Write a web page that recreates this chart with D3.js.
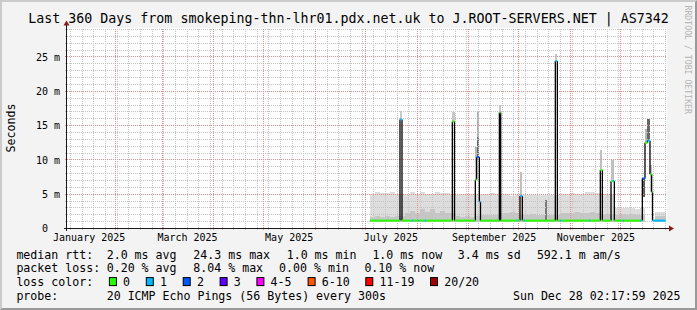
<!DOCTYPE html>
<html><head><meta charset="utf-8">
<script src="https://cdn.jsdelivr.net/npm/d3@7"></script>
<style>
html,body{margin:0;padding:0;background:#f3f3f3;}
svg{display:block;}
text{font-family:"DejaVu Sans Mono",monospace;fill:#000;}
</style></head><body>
<svg id="chart" width="697" height="310"></svg>
<script>
// ---------------- data ----------------
const title = "Last 360 Days from smokeping-thn-lhr01.pdx.net.uk to J.ROOT-SERVERS.NET | AS7342";
const timeDomain = ["2025-01-03T00:00", "2025-12-29T00:00"];
const yMax = 29.15;
const yTicks = [0, 5, 10, 15, 20, 25];
const monthLabelDates = ["2025-01-16", "2025-03-16", "2025-05-16", "2025-07-16", "2025-09-16", "2025-11-16"];

// median rtt (ms) as steps: each value holds from its time until the next one
const medTimes = ["2025-07-03T19:00","2025-07-21T19:00","2025-07-23T00:00","2025-07-28T17:00","2025-07-29T19:00",
  "2025-08-01T14:00","2025-08-02T12:00","2025-08-05T12:00","2025-08-06T10:00","2025-08-22T05:00","2025-08-23T12:00",
  "2025-09-05T00:00","2025-09-05T19:00","2025-09-07T10:00","2025-09-08T02:00","2025-09-19T10:00","2025-09-20T05:00",
  "2025-09-29T14:00","2025-09-30T10:00","2025-10-01T19:00","2025-10-03T05:00","2025-10-03T22:00","2025-10-04T19:00",
  "2025-10-23T00:00","2025-10-24T05:00","2025-10-25T19:00","2025-10-26T19:00","2025-11-12T02:00","2025-11-12T19:00",
  "2025-11-19T00:00","2025-11-20T05:00","2025-11-25T10:00","2025-11-26T14:00","2025-11-27T10:00","2025-12-02T12:00",
  "2025-12-03T05:00","2025-12-12T19:00","2025-12-13T19:00","2025-12-14T05:00","2025-12-15T19:00","2025-12-17T07:00",
  "2025-12-18T19:00","2025-12-19T19:00","2025-12-20T07:00"];
const medEnd = "2025-12-28T05:00";
const medValues = [1.15,15.9,1.15,1.15,1.15, 1.15,1.15,1.15,1.15,15.6,1.15, 7.1,10.4,3.9,1.15,16.9,1.15,
  1.15,1.15,4.75,1.15,1.15,1.15, 24.4,1.15,1.15,1.15,1.15,1.15, 8.5,1.15,6.9,6.9,1.15,1.15,
  1.15,1.15,1.15,7.3,12.5,12.8, 7.9,5.3,1.15];
const medLoss = [0,1,0,1,0, 1,0,1,0,0,0, 0,2,1,0,0,0, 1,0,1,0,1,0, 1,0,1,0,1,0, 0,0,0,1,0,1, 0,1,0,2,0,1, 0,0,1];

// smoke (ping spread) every 3 days
const smokeStart = "2025-07-03T19:00";
const smokeStepDays = 3;
const smokeFloor = 0.95;
const smokeHigh = [5.1,5.3,5.2,5.2,5.3,5.1,5.0,4.9,5.3,5.1, 5.3,5.0,5.1,5.3,5.2,5.2,5.1,4.9,5.1,5.1,
  5.0,5.0,5.0,5.0,5.2,5.0,5.0,5.0,4.8,4.9, 4.9,4.85,4.85,4.9,4.85,4.9,4.9,4.9,5.0,5.1,
  5.2,5.1,5.0,5.3,5.3,5.2,5.0,5.1,5.0,3.0, 3.0,3.0,3.0,2.9,3.0,0,0,2.4,2.4,2.4];
const smokeMid = [1.7,1.8,1.7,1.8,1.7,1.8,1.8,2.2,2.6,2.3, 2.8,2.4,2.9,2.3,2.5,2.3,2.2,1.8,1.7,1.8,
  1.7,1.8,1.9,2.0,1.9,2.0,2.3,2.2,2.4,2.2, 2.0,2.0,2.1,2.0,1.9,2.0,2.0,2.0,2.2,2.3,
  2.2,2.4,2.2,2.3,2.4,2.2,2.0,2.1,2.0,2.0, 2.1,2.0,2.1,2.0,2.0,0,0,1.8,1.8,1.8];

// smoke columns around the spikes
const colStart = ["2025-07-21T12:00","2025-08-22T00:00","2025-09-05T00:00","2025-09-05T19:00","2025-09-05T19:00",
  "2025-09-19T05:00","2025-10-01T19:00","2025-10-17T02:00","2025-10-23T00:00","2025-11-19T00:00","2025-11-25T10:00",
  "2025-12-14T05:00","2025-12-15T19:00","2025-12-17T07:00","2025-12-18T19:00"];
const colEnd = ["2025-07-23T02:00","2025-08-23T14:00","2025-09-05T19:00","2025-09-07T10:00","2025-09-07T10:00",
  "2025-09-20T10:00","2025-10-03T05:00","2025-10-17T17:00","2025-10-24T05:00","2025-11-20T05:00","2025-11-27T10:00",
  "2025-12-15T19:00","2025-12-17T07:00","2025-12-18T19:00","2025-12-19T19:00"];
const colLo = [15.9,15.6,7.1,13.4,10.4, 16.9,4.75,1.2,24.4,8.5,6.9, 4.6,12.5,12.8,5.3];
const colHi = [17.1,17.0,11.9,17.0,13.4, 18.0,8.2,4.2,25.5,11.4,10.0, 7.3,14.5,16.0,9.2];
const colDensity = [0.15,0.15,0.25,0.3,0.7, 0.15,0.2,0.6,0.15,0.2,0.2, 0.75,0.25,0.7,0.2];

// legend
const lossLabels = ["0","1","2","3","4-5","6-10","11-19","20/20"];
const lossColors = ["#26ff00","#00b8ff","#0059ff","#5e00ff","#ff00ff","#ff5500","#ff0000","#a10000"];
const rttStats = ["2.0 ms avg","24.3 ms max","1.0 ms min","1.0 ms now","3.4 ms sd","592.1 m am/s"];
const lossStats = ["0.20 % avg","8.04 % max","0.00 % min","0.10 % now"];
const probeText = "20 ICMP Echo Pings (56 Bytes) every 300s";
const stampText = "Sun Dec 28 02:17:59 2025";

// ---------------- layout ----------------
const W = 697, H = 310;
const PL = 67, PR = 667, PT = 28.5, PB = 228.5;
const rttX = [106.7,193.3,286.7,372.4,457.8,536.9];
const lossX = [106.7,193.3,279.1,364.4];
const boxX = [108.9,145.8,182.7,219.6,256.4,307.6,365.3,430];
const rowY = [258.5,272.3,286.1,299.9];

const parse = d3.utcParse("%Y-%m-%dT%H:%M");
const parseDay = d3.utcParse("%Y-%m-%d");
const svg = d3.select("#chart");

const x = d3.scaleUtc().domain(timeDomain.map(parse)).range([PL, PR]);
const y = d3.scaleLinear().domain([0, yMax]).range([PB, PT]);
const snap = v => Math.floor(v) + 0.5;

// background and frame
svg.append("rect").attr("width", W).attr("height", H).attr("fill", "#f3f3f3");
svg.append("polygon").attr("points", "0,0 697,0 695,2 2,2 2,308 0,310").attr("fill", "#cbcbcb");
svg.append("polygon").attr("points", "697,0 697,310 0,310 2,308 695,308 695,2").attr("fill", "#999999");
svg.append("rect").attr("x", PL).attr("y", 28).attr("width", PR - PL).attr("height", 200).attr("fill", "#ffffff");

// smoke
const endT = parse(medEnd);
const sStart = parse(smokeStart);
const gSmoke = svg.append("g").attr("shape-rendering", "crispEdges");
const smokeSteps = smokeHigh.map((h, i) => {
  const t0 = d3.utcDay.offset(sStart, smokeStepDays * i);
  let t1 = d3.utcDay.offset(sStart, smokeStepDays * (i + 1));
  if (t1 > endT) t1 = endT;
  return {t0, t1, h, m: smokeMid[i]};
});
gSmoke.selectAll("rect.hi").data(smokeSteps.filter(d => d.h > 0)).join("rect")
  .attr("x", d => x(d.t0)).attr("width", d => x(d.t1) - x(d.t0))
  .attr("y", d => y(d.h)).attr("height", d => y(smokeFloor) - y(d.h))
  .attr("fill", "#dddddd");
gSmoke.selectAll("rect.mid").data(smokeSteps.filter(d => d.m > 0)).join("rect")
  .attr("x", d => x(d.t0)).attr("width", d => x(d.t1) - x(d.t0))
  .attr("y", d => y(d.m)).attr("height", d => y(smokeFloor) - y(d.m))
  .attr("fill", "#c6c6c6");
const shade = d3.interpolateRgb("#e2e2e2", "#333333");
const cols = colStart.map((s, i) => ({t0: parse(s), t1: parse(colEnd[i]), lo: colLo[i], hi: colHi[i], d: colDensity[i]}));
gSmoke.selectAll("rect.col").data(cols).join("rect")
  .attr("x", d => x(d.t0)).attr("width", d => Math.max(1, x(d.t1) - x(d.t0)))
  .attr("y", d => y(d.hi)).attr("height", d => y(d.lo) - y(d.hi))
  .attr("fill", d => shade(d.d));

// grid
const gGrid = svg.append("g").attr("shape-rendering", "crispEdges").attr("stroke-width", 1);
const minorY = d3.range(1, Math.floor(yMax) + 1).filter(v => v % 5 !== 0);
const majorY = d3.range(5, Math.floor(yMax) + 1, 5);
const [d0, d1] = x.domain();
const months = d3.utcMonth.range(d0, d1).filter(t => t > d0);
const weeks = d3.utcSunday.range(d0, d1).filter(t => t > d0 && !months.some(m => +m === +t));
gGrid.selectAll("line.hmin").data(minorY).join("line")
  .attr("x1", PL - 2).attr("x2", PR).attr("y1", d => snap(y(d))).attr("y2", d => snap(y(d)))
  .attr("stroke", "#c4c4c4").attr("stroke-dasharray", "1,1");
gGrid.selectAll("line.vmin").data(weeks).join("line")
  .attr("x1", d => snap(x(d))).attr("x2", d => snap(x(d))).attr("y1", PT).attr("y2", PB + 2)
  .attr("stroke", "#c4c4c4").attr("stroke-dasharray", "1,1");
gGrid.selectAll("line.hmaj").data(majorY).join("line")
  .attr("x1", PL - 2).attr("x2", PR).attr("y1", d => snap(y(d))).attr("y2", d => snap(y(d)))
  .attr("stroke", "#f08a8a").attr("stroke-dasharray", "1,1");
gGrid.selectAll("line.vmaj").data(months).join("line")
  .attr("x1", d => snap(x(d))).attr("x2", d => snap(x(d))).attr("y1", PT).attr("y2", PB + 2)
  .attr("stroke", "#f08a8a").attr("stroke-dasharray", "1,1");

// median line
const segs = medTimes.map((s, i) => ({
  t0: parse(s), t1: i < medTimes.length - 1 ? parse(medTimes[i + 1]) : endT,
  v: medValues[i], prev: i > 0 ? medValues[i - 1] : null, loss: medLoss[i]
}));
const gMed = svg.append("g");
gMed.selectAll("line.vert").data(segs.filter(d => d.prev !== null && d.prev !== d.v)).join("line")
  .attr("x1", d => x(d.t0)).attr("x2", d => x(d.t0))
  .attr("y1", d => y(d.prev)).attr("y2", d => y(d.v))
  .attr("stroke", "#000").attr("stroke-width", 1.3);
gMed.selectAll("line.hor").data(segs).join("line")
  .attr("x1", d => x(d.t0)).attr("x2", d => x(d.t1))
  .attr("y1", d => y(d.v)).attr("y2", d => y(d.v))
  .attr("stroke", d => lossColors[d.loss]).attr("stroke-width", 2);

// axes (labels through d3 axes)
const yAxis = d3.axisLeft(y).tickValues(yTicks)
  .tickFormat(d => d === 0 ? "0\u00a0\u00a0" : d + "\u00a0m").tickSize(0).tickPadding(6.5);
const gy = svg.append("g").attr("transform", `translate(${PL - 0.5},0)`).call(yAxis);
gy.select(".domain").remove();
gy.selectAll("text").attr("font-family", "DejaVu Sans Mono").attr("font-size", 10).attr("fill", "#000");

const xAxis = d3.axisBottom(x).tickValues(monthLabelDates.map(parseDay))
  .tickFormat(d3.utcFormat("%B %Y")).tickSize(0).tickPadding(5);
const gx = svg.append("g").attr("transform", `translate(0,${PB})`).call(xAxis);
gx.select(".domain").remove();
gx.selectAll("text").attr("font-family", "DejaVu Sans Mono").attr("font-size", 10).attr("fill", "#000");

// axis lines and arrows
svg.append("line").attr("x1", PL - 3).attr("x2", PR + 3).attr("y1", PB).attr("y2", PB)
  .attr("stroke", "#1a1a1a").attr("stroke-width", 1).attr("shape-rendering", "crispEdges");
svg.append("line").attr("x1", PL - 0.5).attr("x2", PL - 0.5).attr("y1", PB + 2).attr("y2", PT - 4)
  .attr("stroke", "#1a1a1a").attr("stroke-width", 1).attr("shape-rendering", "crispEdges");
svg.append("polygon").attr("points", `${PL-3.5},${PT-3} ${PL+2.5},${PT-3} ${PL-0.5},${PT-8}`).attr("fill", "#8b1a1a");
svg.append("polygon").attr("points", `${PR+2},${PB-3} ${PR+2},${PB+3} ${PR+7},${PB}`).attr("fill", "#8b1a1a");

// title and side texts
svg.append("text").attr("x", W / 2).attr("y", 23).attr("text-anchor", "middle")
  .attr("font-size", 13.3).text(title);
svg.append("text").attr("transform", "translate(15,128) rotate(-90)").attr("text-anchor", "middle")
  .attr("font-size", 11.6).text("Seconds");
svg.append("text").attr("transform", "translate(685,5.5) rotate(90)")
  .attr("font-size", 8.2).style("fill", "#b4b4b4").text("RRDTOOL / TOBI OETIKER");

// legend
const gL = svg.append("g").attr("font-size", 11.6).style("white-space", "pre");
gL.append("text").attr("x", 16.4).attr("y", rowY[0]).text("median rtt:");
gL.selectAll("text.rtt").data(rttStats).join("text").attr("class", "rtt")
  .attr("x", (d, i) => rttX[i]).attr("y", rowY[0]).text(d => d);
gL.append("text").attr("x", 16.4).attr("y", rowY[1]).text("packet loss:");
gL.selectAll("text.ls").data(lossStats).join("text").attr("class", "ls")
  .attr("x", (d, i) => lossX[i]).attr("y", rowY[1]).text(d => d);
gL.append("text").attr("x", 16.4).attr("y", rowY[2]).text("loss color:");
gL.selectAll("rect.box").data(lossColors).join("rect").attr("class", "box")
  .attr("x", (d, i) => boxX[i] + 0.5).attr("y", rowY[2] - 8.5).attr("width", 7).attr("height", 8)
  .attr("fill", d => d).attr("stroke", "#000").attr("stroke-width", 1);
gL.selectAll("text.ll").data(lossLabels).join("text").attr("class", "ll")
  .attr("x", (d, i) => boxX[i] + 14.2).attr("y", rowY[2]).text(d => d);
gL.append("text").attr("x", 16.4).attr("y", rowY[3]).text("probe:");
gL.append("text").attr("x", 106.7).attr("y", rowY[3]).text(probeText);
gL.append("text").attr("x", 680.5).attr("y", rowY[3]).attr("text-anchor", "end").text(stampText);
</script>
</body></html>
